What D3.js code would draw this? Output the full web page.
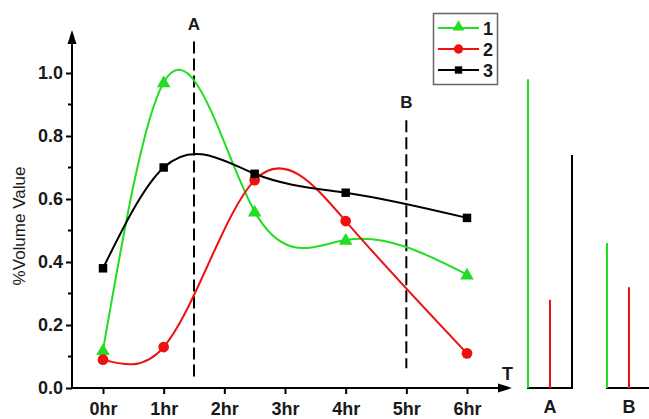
<!DOCTYPE html>
<html>
<head>
<meta charset="utf-8">
<script src="https://cdn.jsdelivr.net/npm/d3@7"></script>
<style>
  body { margin: 0; background: #fff; }
  svg { display: block; font-family: Arial, "Liberation Sans", sans-serif; }
</style>
</head>
<body>
<svg id="chart" width="649" height="419"></svg>
<script>
"use strict";

// sample times (hours) and values for each series
const sampleT = [0, 1, 2.5, 4, 6];
const series1 = [0.12, 0.97, 0.56, 0.47, 0.36];
const series2 = [0.09, 0.13, 0.66, 0.53, 0.11];
const series3 = [0.38, 0.70, 0.68, 0.62, 0.54];

const hourTicks = [0, 1, 2, 3, 4, 5, 6];
const hourLabels = ["0hr", "1hr", "2hr", "3hr", "4hr", "5hr", "6hr"];
const yMajor = [0, 0.2, 0.4, 0.6, 0.8, 1.0];
const yMinor = [0.1, 0.3, 0.5, 0.7, 0.9];

// cut lines A and B
const cutNames = ["A", "B"];
const cutT = [1.5, 5];
const cutTop = [1.1, 0.85];
const cutBottom = [0.035, 0.063];

// values of each series at the cuts (side panels)
const sliceA = [0.98, 0.28, 0.74];
const sliceB = [0.46, 0.32, 0.58];

const seriesNames = ["1", "2", "3"];
const colors = ["#22dd22", "#ee1111", "#000000"];
const shapes = [d3.symbolTriangle, d3.symbolCircle, d3.symbolSquare];
const shapeSizes = [80, 90, 72];

// natural cubic spline y(x) as a d3 curve (segments drawn as beziers)
const curveSplineX = function(context){
  let pts = [];
  return {
    areaStart(){}, areaEnd(){},
    lineStart(){ pts = []; },
    point(px, py){ pts.push([+px, +py]); },
    lineEnd(){
      const n = pts.length - 1;
      if (n < 1) return;
      const h = [], M = new Array(n + 1).fill(0);
      for (let i = 0; i < n; i++) h.push(pts[i + 1][0] - pts[i][0]);
      // tridiagonal solve for second derivatives
      const a = [], b = [], c = [], r = [];
      for (let i = 1; i < n; i++){
        a.push(h[i - 1]); b.push(2 * (h[i - 1] + h[i])); c.push(h[i]);
        r.push(6 * ((pts[i + 1][1] - pts[i][1]) / h[i] - (pts[i][1] - pts[i - 1][1]) / h[i - 1]));
      }
      const m = b.length;
      for (let i = 1; i < m; i++){
        const w = a[i] / b[i - 1];
        b[i] -= w * c[i - 1];
        r[i] -= w * r[i - 1];
      }
      for (let i = m - 1; i >= 0; i--){
        M[i + 1] = (r[i] - (i < m - 1 ? c[i] * M[i + 2] : 0)) / b[i];
      }
      const slope = [];
      for (let i = 0; i < n; i++){
        slope.push((pts[i + 1][1] - pts[i][1]) / h[i] - h[i] * (2 * M[i] + M[i + 1]) / 6);
      }
      slope.push((pts[n][1] - pts[n - 1][1]) / h[n - 1] + h[n - 1] * (M[n - 1] + 2 * M[n]) / 6);
      context.moveTo(pts[0][0], pts[0][1]);
      for (let i = 0; i < n; i++){
        const d = h[i] / 3;
        context.bezierCurveTo(pts[i][0] + d, pts[i][1] + slope[i] * d,
                              pts[i + 1][0] - d, pts[i + 1][1] - slope[i + 1] * d,
                              pts[i + 1][0], pts[i + 1][1]);
      }
    }
  };
};

const svg = d3.select("#chart");

const x = d3.scaleLinear().domain([0, 6]).range([103, 467]);
const y = d3.scaleLinear().domain([0, 1]).range([388, 73]);
const txt = "#1a1a1a";

/*-- axes ------------------------------------------------------------------*/
const axisG = svg.append("g").attr("stroke", "#000").attr("stroke-width", 2);
axisG.append("line").attr("x1", 72).attr("x2", 72).attr("y1", y(0) + 1).attr("y2", 40);
axisG.append("line").attr("x1", 71).attr("x2", 502).attr("y1", y(0)).attr("y2", y(0));
svg.append("path").attr("d", "M72,30 L67.5,44 L76.5,44 Z").attr("fill", "#000");
svg.append("path").attr("d", "M512,388 L498,383.5 L498,392.5 Z").attr("fill", "#000");

const yAxis = svg.append("g")
  .attr("transform", "translate(72,0)")
  .call(d3.axisLeft(y).tickValues(yMajor).tickSize(6).tickFormat(d3.format(".1f")));
yAxis.select(".domain").remove();
yAxis.selectAll(".tick line").attr("stroke-width", 2);
yAxis.selectAll(".tick text")
  .attr("font-size", 18).attr("font-weight", "bold").attr("x", -9)
  .attr("font-family", "Arial, 'Liberation Sans', sans-serif").attr("fill", txt);

svg.append("g").selectAll("line")
  .data(yMinor).enter().append("line")
  .attr("x1", 68).attr("x2", 72)
  .attr("y1", d => y(d)).attr("y2", d => y(d))
  .attr("stroke", "#000").attr("stroke-width", 2);

const xAxis = svg.append("g")
  .attr("transform", "translate(0," + y(0) + ")")
  .call(d3.axisBottom(x).tickValues(hourTicks).tickSize(6)
    .tickFormat((d, i) => hourLabels[i]));
xAxis.select(".domain").remove();
xAxis.selectAll(".tick line").attr("stroke-width", 2);
xAxis.selectAll(".tick text")
  .attr("font-size", 18).attr("font-weight", "bold").attr("y", 0).attr("dy", "27")
  .attr("font-family", "Arial, 'Liberation Sans', sans-serif").attr("fill", txt);

svg.append("text").attr("x", 502).attr("y", 380)
  .attr("font-size", 18).attr("font-weight", "bold").attr("fill", txt).text("T");

svg.append("text")
  .attr("transform", "translate(25,226) rotate(-90)")
  .attr("text-anchor", "middle").attr("font-size", 17).attr("fill", txt)
  .text("%Volume Value");

/*-- cut lines ---------------------------------------------------------------*/
cutNames.forEach(function(name, i){
  svg.append("line")
     .attr("x1", x(cutT[i])).attr("x2", x(cutT[i]))
     .attr("y1", y(cutTop[i])).attr("y2", y(cutBottom[i]))
     .attr("stroke", "#000").attr("stroke-width", 2)
     .attr("stroke-dasharray", "12,5");
  svg.append("text")
     .attr("x", x(cutT[i])).attr("y", y(cutTop[i]) - 12)
     .attr("text-anchor", "middle").attr("font-size", 17).attr("font-weight", "bold")
     .attr("fill", txt).text(name);
});

/*-- series ------------------------------------------------------------------*/
const allSeries = [series1, series2, series3];
const line = d3.line().x(d => x(d[0])).y(d => y(d[1])).curve(curveSplineX);

allSeries.forEach(function(vals, i){
  const pts = sampleT.map((t, j) => [t, vals[j]]);
  svg.append("path")
     .attr("d", line(pts))
     .attr("fill", "none").attr("stroke", colors[i]).attr("stroke-width", 2);
});

allSeries.forEach(function(vals, i){
  svg.append("g").selectAll("path")
     .data(sampleT.map((t, j) => [t, vals[j]]))
     .enter().append("path")
     .attr("transform", d => "translate(" + x(d[0]) + "," + (y(d[1]) + (i === 0 ? 1 : 0)) + ")")
     .attr("d", d3.symbol().type(shapes[i]).size(shapeSizes[i]))
     .attr("fill", colors[i]);
});

/*-- legend ------------------------------------------------------------------*/
const legend = svg.append("g");
legend.append("rect").attr("x", 433.5).attr("y", 13.5).attr("width", 64).attr("height", 71)
  .attr("fill", "#fff").attr("stroke", "#666").attr("stroke-width", 1.5);
const legY = d3.scalePoint().domain(seriesNames).range([28, 70]);
const legRow = legend.selectAll("g.row").data(seriesNames).enter().append("g")
  .attr("transform", d => "translate(0," + legY(d) + ")");
legRow.append("line").attr("x1", 438).attr("x2", 479).attr("y1", 0).attr("y2", 0)
  .attr("stroke", (d, i) => colors[i]).attr("stroke-width", 2);
legRow.append("path").attr("transform", (d, i) => "translate(458.5," + (i === 0 ? -1 : 0) + ")")
  .attr("d", (d, i) => d3.symbol().type(shapes[i]).size(shapeSizes[i] * 0.75)())
  .attr("fill", (d, i) => colors[i]);
legRow.append("text").attr("x", 483).attr("y", 6.5).attr("font-size", 18)
  .attr("font-weight", "bold").attr("fill", txt).text(d => d);

/*-- side panels -------------------------------------------------------------*/
const groupX = d3.scalePoint().domain(cutNames).range([528, 607]);
const subX = d3.scaleLinear().domain([0, 2]).range([0, 44]);
const slices = [sliceA, sliceB];

cutNames.forEach(function(name, g){
  const gx = groupX(name);
  svg.append("line").attr("x1", gx - 1).attr("x2", gx + subX(2) + 1)
     .attr("y1", y(0)).attr("y2", y(0)).attr("stroke", "#000").attr("stroke-width", 2);
  svg.append("g").selectAll("line").data(slices[g]).enter().append("line")
     .attr("x1", (d, i) => gx + subX(i)).attr("x2", (d, i) => gx + subX(i))
     .attr("y1", y(0)).attr("y2", d => y(d))
     .attr("stroke", (d, i) => colors[i]).attr("stroke-width", 2);
  svg.append("text").attr("x", gx + subX(1)).attr("y", 413)
     .attr("text-anchor", "middle").attr("font-size", 18).attr("font-weight", "bold")
     .attr("fill", txt).text(name);
});
</script>
</body>
</html>
